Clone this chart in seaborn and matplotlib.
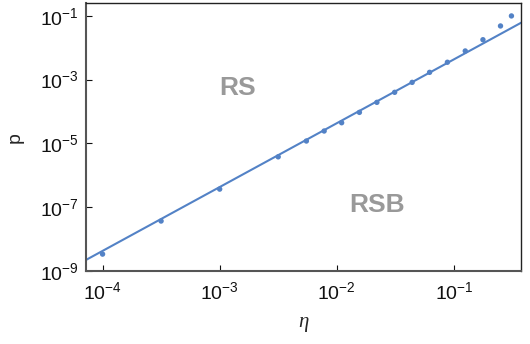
import numpy as np
import pandas as pd
import matplotlib
matplotlib.use('Agg')
import matplotlib.pyplot as plt
import seaborn as sns
from matplotlib.ticker import LogLocator, NullLocator, FixedLocator

# data
eta = [1e-4, 3.16e-4, 1e-3, 3.16e-3, 5.5e-3, 7.8e-3, 1.1e-2, 1.56e-2, 2.2e-2,
       3.12e-2, 4.4e-2, 6.2e-2, 8.8e-2, 0.125, 0.177, 0.25, 0.31]
p = [3.4e-9, 3.7e-8, 3.7e-7, 3.8e-6, 1.19e-5, 2.45e-5, 4.45e-5, 9.4e-5, 1.94e-4,
     4.0e-4, 8.2e-4, 1.69e-3, 3.5e-3, 7.9e-3, 1.78e-2, 4.8e-2, 9.9e-2]

# fitted line ends
eta_fit = [7.0e-5, 0.40]
p_fit = [2.1e-9, 6.9e-2]

yticks = [1e-9, 1e-7, 1e-5, 1e-3, 1e-1]

blue = '#5382c6'

sns.set_style('ticks')
plt.rcParams['font.family'] = ['Liberation Sans', 'DejaVu Sans']
plt.rcParams['mathtext.fontset'] = 'custom'
plt.rcParams['mathtext.rm'] = 'Liberation Sans'
plt.rcParams['mathtext.it'] = 'Liberation Serif:italic'

fig = plt.figure(figsize=(5.3, 3.44), dpi=100)
ax = fig.add_axes([0.162, 0.212, 0.821, 0.779])

pts = pd.DataFrame({'eta': eta, 'p': p})
fit = pd.DataFrame({'eta': eta_fit, 'p': p_fit})
sns.lineplot(data=fit, x='eta', y='p', color=blue, lw=1.5, ax=ax)
sns.scatterplot(data=pts, x='eta', y='p', color=blue, s=15, edgecolor='none', ax=ax, zorder=3)

ax.set_xscale('log')
ax.set_yscale('log')
ax.set_xlim(7.2e-5, 0.374)
ax.set_ylim(1e-9, 0.25)

ax.xaxis.set_major_locator(LogLocator(base=10, numticks=10))
ax.yaxis.set_major_locator(FixedLocator(yticks))
ax.xaxis.set_minor_locator(NullLocator())
ax.yaxis.set_minor_locator(NullLocator())
ax.tick_params(direction='in', length=4, width=0.8, labelsize=14, colors='#111111')
ax.tick_params(axis='x', pad=7)
ax.tick_params(axis='y', pad=5)

for side in ['left', 'bottom']:
    ax.spines[side].set_color('#555555')
    ax.spines[side].set_linewidth(1.5)
for side in ['top', 'right']:
    ax.spines[side].set_visible(True)
    ax.spines[side].set_color('#222222')
    ax.spines[side].set_linewidth(1.0)

ax.text(1.43e-3, 5.5e-4, 'RS', color='#999999', fontsize=19, fontweight='bold', ha='center', va='center')
ax.text(0.022, 1.17e-7, 'RSB', color='#999999', fontsize=19, fontweight='bold', ha='center', va='center')

ax.set_xlabel(r'$\eta$', fontsize=15, labelpad=9)
ax.set_ylabel('p', fontsize=14, labelpad=12)

fig.savefig('out.png', dpi=100)
